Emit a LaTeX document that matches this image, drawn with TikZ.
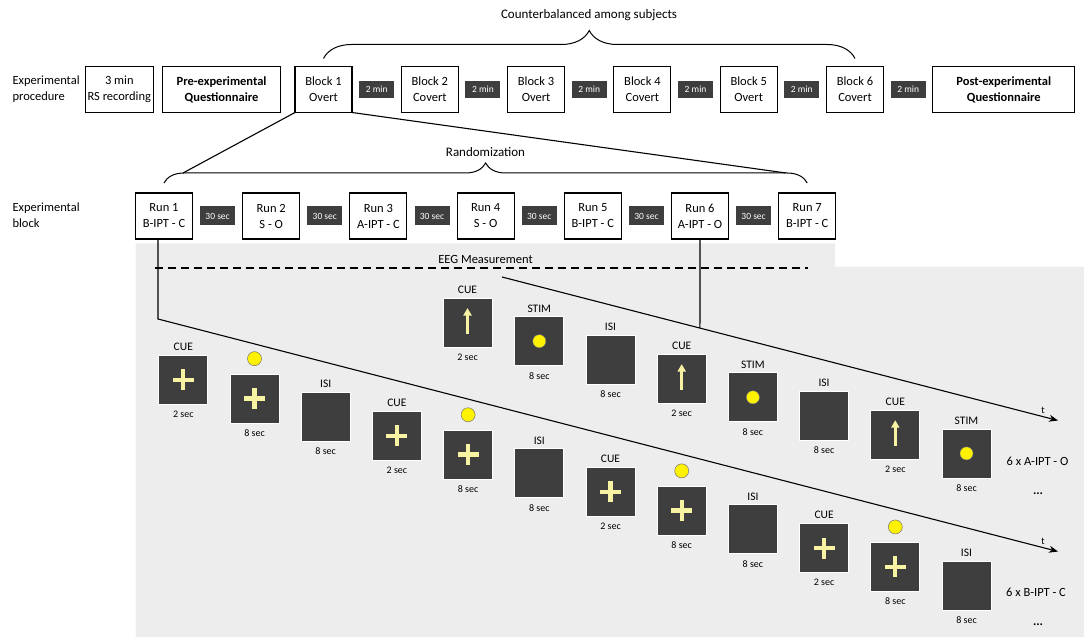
\documentclass[tikz,border=0pt]{standalone}
\usepackage{fontspec}
\setmainfont{Carlito}
\usetikzlibrary{positioning,arrows.meta,calc,decorations.pathreplacing}

\definecolor{screengray}{HTML}{3E3E3E}
\definecolor{eegbg}{HTML}{EDEDED}
\definecolor{paleyellow}{HTML}{F8F3A2}
\definecolor{dotyellow}{HTML}{FFF200}

\begin{document}
\begin{tikzpicture}[
    x=1pt, y=-1pt,
    line width=1.1pt,
    box/.style = {
        rectangle, draw, outer sep=0pt, inner sep=1pt,
        minimum width=57pt, minimum height=46pt,
        align=center, font=\fontsize{12.5}{16}\selectfont
    },
    boldbox/.style = {box, font=\fontsize{12.5}{16}\selectfont\bfseries},
    gapbox/.style = {
        rectangle, fill=screengray, text=white, outer sep=0pt, inner sep=0pt,
        minimum width=35pt, minimum height=17pt, font=\fontsize{9.5}{11}\selectfont
    },
    rowlabel/.style = {anchor=west, align=left, inner sep=0pt, font=\fontsize{12.5}{16}\selectfont},
    headtext/.style = {inner sep=0pt, font=\fontsize{13}{15}\selectfont},
    curly/.style = {decorate, decoration={brace, amplitude=#1}, line width=1pt},
    screen/.style = {
        rectangle, fill=screengray, draw=white, line width=0.7pt,
        minimum size=49pt, inner sep=0pt, outer sep=0pt
    },
    toplbl/.style = {inner sep=0pt, label distance=4pt, font=\fontsize{11.5}{13}\selectfont},
    durlbl/.style = {inner sep=0pt, label distance=6pt, font=\fontsize{10}{12}\selectfont},
    yeldot/.style = {circle, fill=dotyellow, draw=black!55, line width=0.5pt,
        minimum size=14pt, inner sep=0pt, label distance=8pt},
    plusmark/.style = {path picture={
        \draw[paleyellow, line width=4.3pt]
            ([xshift=-10.5pt]path picture bounding box.center) -- ([xshift=10.5pt]path picture bounding box.center)
            ([yshift=-10.5pt]path picture bounding box.center) -- ([yshift=10.5pt]path picture bounding box.center);}},
    arrowmark/.style = {path picture={
        \draw[paleyellow, line width=2.8pt, -{Triangle[width=8pt,length=7.5pt]}]
            ([yshift=-11.5pt]path picture bounding box.center) -- ([yshift=14.5pt]path picture bounding box.center);}},
    dotmark/.style = {path picture={
        \fill[dotyellow, draw=black!50, line width=0.4pt] (path picture bounding box.center) circle (6.5pt);}},
    cueplus/.style = {screen, plusmark, label={[toplbl]above:CUE}, label={[durlbl]below:2 sec}},
    stimplus/.style = {screen, plusmark, label={[yeldot]above:{}}, label={[durlbl]below:8 sec}},
    isi/.style = {screen, label={[toplbl]above:ISI}, label={[durlbl]below:8 sec}},
    cuearrow/.style = {screen, arrowmark, label={[toplbl]above:CUE}, label={[durlbl]below:2 sec}},
    stimdot/.style = {screen, dotmark, label={[toplbl]above:STIM}, label={[durlbl]below:8 sec}},
    sidetext/.style = {inner sep=0pt, font=\fontsize{12.5}{15}\selectfont},
    arrow/.style = {-{Stealth[length=9pt, width=7pt]}}
]
\useasboundingbox (0,0) rectangle (1084,644);

% EEG area
\fill[eegbg] (135.7,243.3) -- (835,243.3) -- (835,266.7) -- (1084,266.7)
    -- (1084,637) -- (135.7,637) -- cycle;

% Experimental procedure
\node[rowlabel] (proclbl) at (12,89.5) {Experimental\\procedure};
\node[box] (block1) at (323.5,89.5) {Block 1\\Overt};
\node[boldbox, minimum width=118pt, left=14.4pt of block1] (preq) {Pre-experimental\\Questionnaire};
\node[box, minimum width=68pt, left=9.3pt of preq] (rsrec) {3 min\\RS recording};
\node[gapbox, right=7.15pt of block1] (gap1) {2 min};
\node[box, right=7.15pt of gap1] (block2) {Block 2\\Covert};
\node[gapbox, right=7.15pt of block2] (gap2) {2 min};
\node[box, right=7.15pt of gap2] (block3) {Block 3\\Overt};
\node[gapbox, right=7.15pt of block3] (gap3) {2 min};
\node[box, right=7.15pt of gap3] (block4) {Block 4\\Covert};
\node[gapbox, right=7.15pt of block4] (gap4) {2 min};
\node[box, right=7.15pt of gap4] (block5) {Block 5\\Overt};
\node[gapbox, right=7.15pt of block5] (gap5) {2 min};
\node[box, right=7.15pt of gap5] (block6) {Block 6\\Covert};
\node[gapbox, right=7.15pt of block6] (gap6) {2 min};
\node[boldbox, minimum width=142pt, right=7.15pt of gap6] (postq) {Post-experimental\\Questionnaire};

\node[headtext] (cbal) at (589,15) {Counterbalanced among subjects};
\draw[curly=28pt] ([yshift=8pt]block1.north) -- ([yshift=8pt]block6.north);

% Experimental block
\node[rowlabel] (blocklbl) at (12,215) {Experimental\\block};
\node[box] (run1) at (164,216) {Run 1\\B-IPT - C};
\node[gapbox, minimum height=19pt, right=7.6pt of run1] (pause1) {30 sec};
\node[box, right=7.6pt of pause1] (run2) {Run 2\\S - O};
\node[gapbox, minimum height=19pt, right=7.6pt of run2] (pause2) {30 sec};
\node[box, right=7.6pt of pause2] (run3) {Run 3\\A-IPT - C};
\node[gapbox, minimum height=19pt, right=7.6pt of run3] (pause3) {30 sec};
\node[box, right=7.6pt of pause3] (run4) {Run 4\\S - O};
\node[gapbox, minimum height=19pt, right=7.6pt of run4] (pause4) {30 sec};
\node[box, right=7.6pt of pause4] (run5) {Run 5\\B-IPT - C};
\node[gapbox, minimum height=19pt, right=7.6pt of run5] (pause5) {30 sec};
\node[box, right=7.6pt of pause5] (run6) {Run 6\\A-IPT - O};
\node[gapbox, minimum height=19pt, right=7.6pt of run6] (pause6) {30 sec};
\node[box, right=7.6pt of pause6] (run7) {Run 7\\B-IPT - C};

\node[headtext] (rnd) at (485.5,152) {Randomization};
\draw[curly=20pt] ([yshift=10pt]run1.north) -- ([yshift=10pt]run7.north);
\coordinate (rndL) at (183,173);
\coordinate (rndR) at (786,173);
\draw (block1.south west) -- (rndL);
\draw (block1.south east) -- (rndR);

% EEG measurement
\node[headtext, font=\fontsize{12.5}{15}\selectfont] (eeg) at (485.5,259) {EEG Measurement};
\coordinate (eegL) at (155,268);
\coordinate (eegR) at (808,268);
\draw[dashed, dash pattern=on 8pt off 5pt] (eegL) -- (eegR);

% Timelines
\coordinate (bendB) at (158,319);
\coordinate (tipB) at (1058,551.5);
\draw[arrow] ([xshift=-6pt]run1.south) -- (bendB) -- (tipB);
\coordinate (startA) at (502,277);
\coordinate (tipA) at (1058,420.5);
\draw[arrow] (startA) -- coordinate[pos=0.356] (joinA) (tipA);
\draw (run6.south) -- (joinA);
\node[sidetext, font=\fontsize{10}{12}\selectfont] (tA) at ($(tipA)+(-15,-10)$) {t};
\node[sidetext, font=\fontsize{10}{12}\selectfont] (tB) at ($(tipB)+(-15,-10)$) {t};

% A-IPT - O trials
\node[cuearrow] (up1) at (467.5,322.5) {};
\node[stimdot] (up2) at (539.3,341.2) {};
\node[isi] (up3) at (610.5,359.9) {};
\node[cuearrow] (up4) at (681.7,378.6) {};
\node[stimdot] (up5) at (752.9,397.3) {};
\node[isi] (up6) at (824.1,416.0) {};
\node[cuearrow] (up7) at (895.3,434.7) {};
\node[stimdot] (up8) at (966.5,453.4) {};
\node[sidetext] (repA) at (1037.5,461.7) {6 x A-IPT - O};
\node[sidetext] (dotsA) at (1038,494) {\textbf{...}};

% B-IPT - C trials
\node[cueplus] (low1) at (183.3,379.7) {};
\node[stimplus] (low2) at (254.5,398.4) {};
\node[isi] (low3) at (325.7,417.1) {};
\node[cueplus] (low4) at (396.9,435.8) {};
\node[stimplus] (low5) at (468.1,454.5) {};
\node[isi] (low6) at (539.3,473.2) {};
\node[cueplus] (low7) at (610.5,491.9) {};
\node[stimplus] (low8) at (681.7,510.6) {};
\node[isi] (low9) at (752.9,529.3) {};
\node[cueplus] (low10) at (824.1,548.0) {};
\node[stimplus] (low11) at (895.3,566.7) {};
\node[isi] (low12) at (966.5,585.4) {};
\node[sidetext] (repB) at (1036,592.7) {6 x B-IPT - C};
\node[sidetext] (dotsB) at (1038,625) {\textbf{...}};

\end{tikzpicture}
\end{document}
